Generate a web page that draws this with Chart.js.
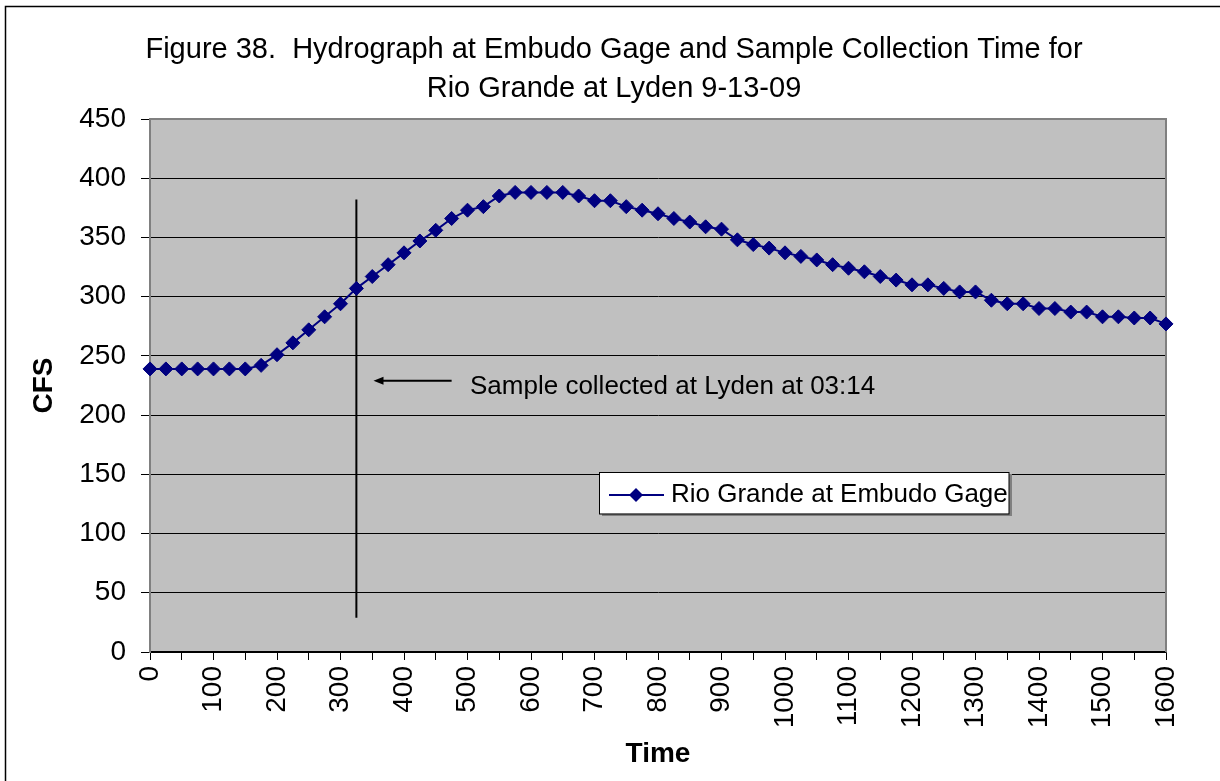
<!DOCTYPE html>
<html>
<head>
<meta charset="utf-8">
<title>Hydrograph at Embudo Gage</title>
<script src="https://cdn.jsdelivr.net/npm/chart.js@4/dist/chart.umd.min.js"></script>
<style>
  body { margin: 0; background: #fff; }
  #wrap { width: 1220px; height: 781px; position: relative; }
</style>
</head>
<body>
<div id="wrap"><canvas id="hydroChart"></canvas></div>
<script>
var titleLines = ['Figure 38.  Hydrograph at Embudo Gage and Sample Collection Time for',
                  'Rio Grande at Lyden 9-13-09'];
var seriesName = 'Rio Grande at Embudo Gage';

// gage readings, time vs flow
var times = [0, 25, 50, 75, 100, 125, 150, 175, 200, 225, 250, 275, 300, 325, 350, 375,
             400, 425, 450, 475, 500, 525, 550, 575, 600, 625, 650, 675, 700, 725, 750, 775,
             800, 825, 850, 875, 900, 925, 950, 975, 1000, 1025, 1050, 1075, 1100, 1125, 1150, 1175,
             1200, 1225, 1250, 1275, 1300, 1325, 1350, 1375, 1400, 1425, 1450, 1475, 1500, 1525, 1550, 1575,
             1600];
var cfs = [239, 239, 239, 239, 239, 239, 239, 242, 251, 261, 272, 283, 294, 307, 317, 327,
           337, 347, 356, 366, 373, 376, 385, 388, 388, 388, 388, 385, 381, 381, 376, 373,
           370, 366, 363, 359, 357, 348, 344, 341, 337, 334, 331, 327, 324, 321, 317, 314,
           310, 310, 307, 304, 304, 297, 294, 294, 290, 290, 287, 287, 283, 283, 282, 282,
           277];

// axis ticks
var timeLabels = [0, 100, 200, 300, 400, 500, 600, 700, 800, 900, 1000, 1100, 1200, 1300, 1400, 1500, 1600];
var cfsTicks = [0, 50, 100, 150, 200, 250, 300, 350, 400, 450];

// sample collection marker and its note
var sampleTime = [325, 325];
var sampleCfs = [29, 382];
var arrowTime = [475, 352];
var arrowCfs = [229, 229];
var sampleNote = 'Sample collected at Lyden at 03:14';

var FONT = '"Liberation Sans", Arial, sans-serif';

var decor = {
    id: 'decor',
    beforeDraw: function(chart) {
        var ctx = chart.ctx, a = chart.chartArea;
        ctx.save();
        ctx.fillStyle = '#fff';
        ctx.fillRect(0, 0, chart.width, chart.height);
        ctx.strokeStyle = '#000';
        ctx.lineWidth = 1.5;
        ctx.strokeRect(5.5, 6.5, chart.width + 40, chart.height + 40);
        ctx.fillStyle = '#c0c0c0';
        ctx.fillRect(a.left, a.top, a.right - a.left, a.bottom - a.top);

        ctx.fillStyle = '#000';
        ctx.font = '29px ' + FONT;
        ctx.textAlign = 'center';
        ctx.textBaseline = 'alphabetic';
        ctx.fillText(titleLines[0], 614, 58);
        ctx.fillText(titleLines[1], 614, 97);
        ctx.restore();
    },
    beforeDatasetsDraw: function(chart) {
        var ctx = chart.ctx, a = chart.chartArea;
        ctx.save();
        ctx.strokeStyle = '#808080';
        ctx.lineWidth = 2;
        ctx.beginPath();
        ctx.moveTo(a.left, a.bottom);
        ctx.lineTo(a.left, a.top);
        ctx.lineTo(a.right, a.top);
        ctx.lineTo(a.right, a.bottom);
        ctx.stroke();
        ctx.restore();
    },
    afterDatasetsDraw: function(chart) {
        var ctx = chart.ctx;
        var xs = chart.scales.x, ys = chart.scales.y;
        ctx.save();

        // arrow pointing at the sample line
        var x0 = xs.getPixelForValue(arrowTime[0]), x1 = xs.getPixelForValue(arrowTime[1]);
        var y0 = ys.getPixelForValue(arrowCfs[0]);
        ctx.strokeStyle = '#000';
        ctx.fillStyle = '#000';
        ctx.lineWidth = 2;
        ctx.beginPath();
        ctx.moveTo(x0, y0);
        ctx.lineTo(x1 + 6, y0);
        ctx.stroke();
        ctx.beginPath();
        ctx.moveTo(x1, y0);
        ctx.lineTo(x1 + 10, y0 - 4);
        ctx.lineTo(x1 + 10, y0 + 4);
        ctx.closePath();
        ctx.fill();

        ctx.font = '26px ' + FONT;
        ctx.textAlign = 'left';
        ctx.textBaseline = 'middle';
        ctx.fillText(sampleNote, 470, 387);

        // legend box
        ctx.fillStyle = '#808080';
        ctx.fillRect(1009, 474, 3, 42);
        ctx.fillRect(602, 514, 410, 2);
        ctx.fillStyle = '#fff';
        ctx.fillRect(600, 472.5, 409, 41);
        ctx.strokeStyle = '#000';
        ctx.lineWidth = 1;
        ctx.strokeRect(599.5, 472.5, 409.5, 41.5);
        ctx.strokeStyle = '#000080';
        ctx.lineWidth = 2;
        ctx.beginPath();
        ctx.moveTo(609, 495);
        ctx.lineTo(664, 495);
        ctx.stroke();
        ctx.fillStyle = '#000080';
        ctx.beginPath();
        ctx.moveTo(636, 488);
        ctx.lineTo(643, 495);
        ctx.lineTo(636, 502);
        ctx.lineTo(629, 495);
        ctx.closePath();
        ctx.fill();
        ctx.fillStyle = '#000';
        ctx.font = '26px ' + FONT;
        ctx.fillText(seriesName, 671, 495);
        ctx.restore();
    }
};

var ctx = document.getElementById('hydroChart').getContext('2d');
var hydroChart = new Chart(ctx, {
    type: 'line',
    data: {
        datasets: [{
            label: seriesName,
            data: times.map(function(t, i) { return { x: t, y: cfs[i] }; }),
            borderColor: '#000080',
            backgroundColor: '#000080',
            borderWidth: 2,
            pointStyle: 'rectRot',
            pointRadius: 7,
            pointBorderWidth: 1,
            pointHoverRadius: 7,
            clip: false,
            order: 1
        }, {
            label: 'Sample time',
            data: sampleTime.map(function(t, i) { return { x: t, y: sampleCfs[i] }; }),
            borderColor: '#000',
            borderWidth: 2,
            pointRadius: 0,
            order: 2
        }]
    },
    options: {
        responsive: true,
        maintainAspectRatio: false,
        animation: false,
        events: [],
        layout: {
            padding: { top: 119, right: 54, bottom: 0, left: 0 }
        },
        plugins: {
            legend: { display: false },
            title: { display: false },
            tooltip: { enabled: false }
        },
        scales: {
            x: {
                type: 'linear',
                min: 0,
                max: 1600,
                afterFit: function(scale) { scale.height = 129; },
                afterBuildTicks: function(scale) {
                    var t = [];
                    for (var v = 0; v <= 1600; v += 50) t.push({ value: v });
                    scale.ticks = t;
                },
                ticks: {
                    autoSkip: false,
                    minRotation: 90,
                    maxRotation: 90,
                    padding: 6,
                    color: '#000',
                    font: { family: FONT, size: 28 },
                    callback: function(v) { return timeLabels.indexOf(v) >= 0 ? String(v) : ''; }
                },
                grid: {
                    drawOnChartArea: false,
                    drawTicks: true,
                    tickLength: 8,
                    color: '#000',
                    lineWidth: 1
                },
                border: { display: true, color: '#000', width: 1.5 },
                title: {
                    display: true,
                    text: 'Time',
                    color: '#000',
                    font: { family: FONT, size: 28, weight: 'bold' },
                    padding: { top: 0, bottom: 10 }
                }
            },
            y: {
                min: 0,
                max: 450,
                afterFit: function(scale) { scale.width = 150; },
                afterBuildTicks: function(scale) {
                    scale.ticks = cfsTicks.map(function(v) { return { value: v }; });
                },
                ticks: {
                    padding: 15,
                    color: '#000',
                    font: { family: FONT, size: 28 }
                },
                grid: {
                    color: '#000',
                    lineWidth: 1,
                    tickLength: 9
                },
                border: { display: true, color: '#808080', width: 2 },
                title: {
                    display: true,
                    text: 'CFS',
                    color: '#000',
                    font: { family: FONT, size: 28, weight: 'bold' },
                    padding: { top: 27, bottom: 0 }
                }
            }
        }
    },
    plugins: [decor]
});
</script>
</body>
</html>
